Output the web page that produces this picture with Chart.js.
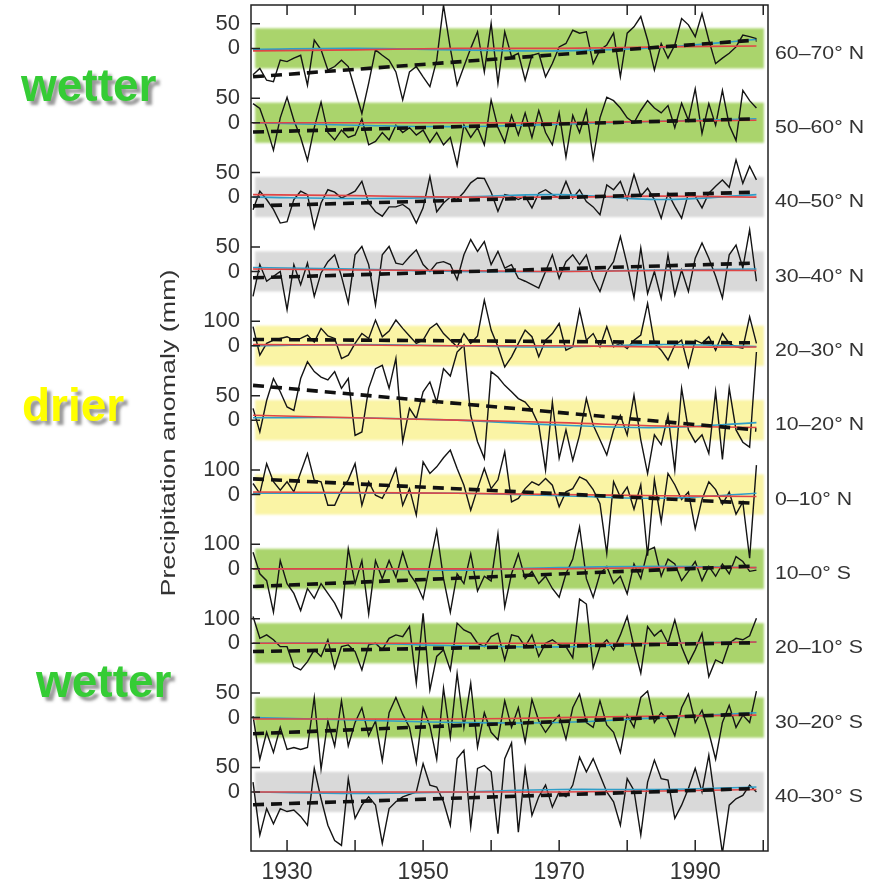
<!DOCTYPE html>
<html>
<head>
<meta charset="utf-8">
<script src="https://cdn.jsdelivr.net/npm/chart.js@4.4.1/dist/chart.umd.min.js"></script>
<style>
  body { margin: 0; background: #fff; }
  canvas { display: block; }
</style>
</head>
<body>
<canvas id="precipChart" width="870" height="884"></canvas>
<script>
// latitude bands, north to south
const zones = ["60–70° N", "50–60° N", "40–50° N", "30–40° N", "20–30° N", "10–20° N",
               "0–10° N", "10–0° S", "20–10° S", "30–20° S", "40–30° S"];
// value of the upper tick label in each band (mm)
const zoneScale = [50, 50, 50, 50, 100, 50, 100, 100, 100, 50, 50];
const zoneKind = ["wet", "wet", "flat", "flat", "dry", "dry", "dry", "wet", "wet", "wet", "flat"];

const firstYear = 1925;
const decades = [1930, 1940, 1950, 1960, 1970, 1980, 1990, 2000];
const yearLabels = [1930, 1950, 1970, 1990];

// observed annual anomalies (mm), 1925-1999
const p6070 = [-54, -41, -65, -68, -24, -27, -20, -14, -75, 17,
  -3, -44, -37, -24, -37, -85, -133, -71, -3, -14,
  -24, -48, -105, -48, -37, -58, -78, -24, 88, 0,
  -75, -37, 0, 34, -48, 51, -71, 34, -17, -10,
  -65, -14, -10, -58, -31, 3, 10, 37, 31, 34,
  -31, -3, 7, 31, -58, 31, 44, 65, 17, -44,
  10, -20, 7, 61, 48, 24, 71, 17, -31, -20,
  -10, 3, 27, 24, 20];
const p5060 = [39, 29, -10, -56, 10, 52, 5, -30, -77, -10,
  42, -20, -35, -15, -30, -25, 8, -45, -38, -20,
  -35, -5, -20, -10, -25, -15, -40, -20, -45, -30,
  -87, -5, -30, -10, -45, 46, -10, -40, 15, -25,
  20, -30, 25, -20, -45, 20, -70, 15, -20, 25,
  -73, 10, 52, 45, 30, 10, 0, 25, 45, 30,
  20, 35, -10, 40, 5, 69, -22, 39, -5, 66,
  -5, -36, 66, 45, 30];
const p4050 = [-26, 12, -5, -25, -53, -50, -5, 12, 5, -63,
  -12, 15, 10, -2, 5, 12, 32, -12, -30, -39,
  -20, -20, -15, -25, -53, -22, 42, -30, -12, 0,
  -5, 10, 29, 39, 38, 10, -29, 5, 2, -5,
  2, -22, 8, 15, 5, -2, 32, -2, 15, -9,
  -20, -36, 25, 15, 32, -5, 46, 2, 18, -5,
  -43, 8, -19, -43, 8, 2, -22, 8, 22, 35,
  20, 76, 28, 63, 35];
const p3040 = [-51, 14, -20, -10, 0, -78, 14, -27, 17, -51,
  -3, 20, 34, -10, -64, 34, 51, 14, -68, 34,
  51, 17, 14, 30, 44, 14, 0, 17, 20, 14,
  -17, 34, 65, 41, 61, 14, 41, 7, 14, -14,
  -20, -27, -34, 0, 34, -14, 20, 34, 14, 34,
  -14, -41, 0, 20, 71, 14, -54, 48, -45, 0,
  -55, 34, -48, 3, -41, 27, 58, 27, -10, -54,
  34, 54, 7, 85, -20];
const p2030 = [78, -38, 10, 23, 30, 37, 23, 30, 44, 15,
  71, 40, 30, -52, -38, 10, 50, 30, 105, 37,
  60, 105, 71, 40, 10, 23, 71, 91, 50, 23,
  -4, 50, 10, 40, 186, 64, -4, -86, -45, 10,
  64, 37, -45, 23, 50, 91, -18, -4, 146, 23,
  50, -4, 78, -4, 10, -11, 23, 44, 173, 10,
  -18, -58, 3, 23, -86, 23, 10, 37, -18, 50,
  10, -4, -10, 118, 10];
const p1020 = [24, -24, 40, 85, 58, 27, 20, 85, 119, 99,
  88, 82, 99, 65, 85, -31, -24, 65, 105, 112,
  65, 126, -44, 24, 3, 58, 78, 37, 105, 90,
  139, 153, 10, -44, -78, 99, 88, 71, 58, 44,
  37, 20, -10, -102, 37, -78, -20, -82, -30, 44,
  -10, -40, -71, -20, 10, -30, 51, -40, -109, -30,
  -50, 10, -102, 65, -20, -45, -30, -68, 58, -80,
  65, -20, -45, -55, 139];
const p0010 = [45, 4, 126, 52, 18, 52, 11, 90, 167, 58,
  52, -44, -44, 18, 60, 126, -44, 52, -3, -16,
  38, 106, -44, 24, -84, 133, 86, 113, 150, 181,
  106, 38, -64, 24, 106, 24, 60, 174, -30, -16,
  24, 52, 38, 65, 38, -50, 11, 24, 72, 58,
  20, -37, -240, 52, -10, 30, -60, 40, -250, 60,
  -111, 86, 40, -20, 10, -139, -20, 52, 20, -40,
  10, -80, -30, -260, 120];
const s0010 = [68, -20, -48, -177, 34, -60, -100, -170, -80, -120,
  -60, -100, -140, -197, 82, -60, 34, -184, 34, -40,
  34, -34, 68, -20, -60, -122, 20, 156, -40, -177,
  -20, -60, 61, -90, -30, -50, 143, -156, -20, 61,
  -40, -10, -60, -30, -80, -116, -20, 40, 170, -40,
  -116, -20, 10, -60, -30, -102, 20, -40, 75, 88,
  -30, 40, 20, -48, -10, 30, -48, 10, -30, 20,
  -20, 50, 30, -10, -5];
const s1020 = [109, 20, 34, 14, -14, -14, -95, -109, -75, -27,
  -54, 14, -102, -14, -7, -34, -109, -7, 0, -27,
  20, 34, 27, 68, -163, 122, -190, -54, -27, -109,
  82, 54, 41, 0, -14, 27, 41, -68, 34, 27,
  -14, 34, -54, 0, 14, -7, -14, -60, 180, 160,
  -100, -14, 14, -27, 34, 109, -14, -122, 68, 30,
  54, 0, 95, -14, -82, -27, 40, -136, -68, -82,
  0, 20, 14, 30, 102];
const s2030 = [3, -85, -30, -71, -20, -65, -61, -65, -61, 41,
  -105, -7, -58, 34, -58, -10, 20, -37, -7, -88,
  10, 41, 7, -20, -92, 20, -17, -85, 60, -40,
  90, -20, 70, -60, 10, -30, -45, 34, -20, 20,
  -50, 37, -7, -30, -10, 5, -44, 20, 48, -10,
  -20, 34, -15, -30, -71, 5, -20, 41, 54, -10,
  10, -5, -37, 20, 48, -10, 15, -30, -85, -10,
  25, -20, 5, -10, 54];
const s3040 = [20, -88, -34, -65, -34, -40, -37, -50, -68, 48,
  -14, -68, -99, -109, 27, -54, -27, -10, -27, -105,
  -34, -20, -10, -5, 0, 58, 14, 10, -20, -68,
  68, 85, -71, 48, 54, 41, -85, 68, 100, -82,
  48, -48, -10, 14, -31, 0, -10, 14, 71, 41,
  68, 34, 0, -20, -68, 27, 3, -88, 20, 65,
  27, 24, -54, -27, 7, 48, 0, 75, -27, -125,
  -27, -14, -7, 14, 0];
const anomalies = [p6070, p5060, p4050, p3040, p2030, p1020, p0010, s0010, s1020, s2030, s3040];

// linear trend of each band at 1925 and 1999 (mm)
const trendStart = [-58, -19, -18, -13, 26, 71, 64, -72, -34, -33, -26];
const trendEnd = [17, 8, 10, 17, 12, -20, -36, 12, 2, 8, 7];

// smoothed model curves (mm)
const modelYears = [1925, 1940, 1955, 1970, 1985, 1999];
const redModel = [
  [-5, -3, 0, 0, 3, 5], [0, 0, 0, 0, 3, 5], [5, 3, 0, 0, 2, 0], [5, 3, 2, 0, 2, 2],
  [5, 3, 0, 0, -5, -5], [10, 5, 0, -5, -12, -15], [10, 8, 5, 0, -5, -8], [0, 0, 0, 0, 5, 5],
  [0, 0, 0, 0, 0, 5], [-3, -3, -3, 0, 3, 5], [0, 0, 0, 0, 2, 5]];
const blueModel = [
  [-2, 0, -3, -5, 2, 18], [0, -5, -8, -3, 3, 8], [0, -3, 0, 5, -5, 5], [8, 5, 0, 0, 3, 5],
  [0, 5, 0, -5, 5, -3], [5, 5, 0, -10, -15, -5], [5, 5, 5, -5, -15, 5], [0, 0, -5, 5, 10, 5],
  [0, 0, -10, -15, 0, 5], [0, -5, -10, -10, 0, 10], [0, -3, 0, 5, 5, 10]];

const years = p6070.map((_, j) => firstYear + j);

// stacking: every band gets its own zero line on one shared axis
const yTop = 1726;
const firstZero = 1637.5;
const panelGap = 151.7;
const zeroOf = i => firstZero - panelGap * i;
const unitsPerMm = i => 50 / zoneScale[i];

const bandColors = { wet: "rgb(170, 212, 108)", flat: "rgb(217, 217, 217)", dry: "rgb(250, 244, 165)" };
const textColor = "#333";

const datasets = [];
anomalies.forEach((vals, i) => {
  const k = unitsPerMm(i), z = zeroOf(i);
  const pt = (yr, v) => ({ x: yr, y: z + v * k });
  datasets.push({
    data: vals.map((v, j) => pt(years[j], v)),
    borderColor: "#141414", borderWidth: 1.4, order: 3
  });
  datasets.push({
    data: modelYears.map((yr, j) => pt(yr, redModel[i][j])),
    borderColor: "#e04545", borderWidth: 1.6, tension: 0.4, order: 2
  });
  datasets.push({
    data: modelYears.map((yr, j) => pt(yr, blueModel[i][j])),
    borderColor: "#2f9ec8", borderWidth: 1.6, tension: 0.4, order: 2
  });
  datasets.push({
    data: [pt(years[0], trendStart[i]), pt(years[years.length - 1], trendEnd[i])],
    borderColor: "#111", borderWidth: 3.6, borderDash: [11, 7], order: 1
  });
});

// y ticks: zero and upper value of each band
const yTickValues = [], yTickText = [];
zones.forEach((_, i) => {
  yTickValues.push(zeroOf(i) + 50); yTickText.push(String(zoneScale[i]));
  yTickValues.push(zeroOf(i)); yTickText.push("0");
});

function drawStretched(ctx, text, x, y, sx) {
  ctx.save();
  ctx.translate(x, y);
  ctx.scale(sx, 1);
  ctx.fillText(text, 0, 0);
  ctx.restore();
}

const decorations = {
  id: "decorations",
  beforeDatasetsDraw(chart) {
    const { ctx, scales: { x, y } } = chart;
    const l = x.getPixelForValue(1925.3), r = x.getPixelForValue(2000.1);
    ctx.save();
    ctx.filter = "blur(1px)";
    zoneKind.forEach((kind, i) => {
      const top = y.getPixelForValue(zeroOf(i) + 41);
      const bot = y.getPixelForValue(zeroOf(i) - 41);
      ctx.fillStyle = bandColors[kind];
      ctx.fillRect(l, top, r - l, bot - top);
    });
    ctx.restore();
  },
  afterDraw(chart) {
    const { ctx, chartArea: a, scales: { x, y } } = chart;
    ctx.save();
    ctx.strokeStyle = "#222";
    ctx.lineWidth = 1.5;
    ctx.strokeRect(a.left, a.top, a.right - a.left, a.bottom - a.top);

    // inward tick marks
    ctx.beginPath();
    decades.forEach(yr => {
      const px = x.getPixelForValue(yr);
      ctx.moveTo(px, a.bottom); ctx.lineTo(px, a.bottom - 11);
      ctx.moveTo(px, a.top); ctx.lineTo(px, a.top + 10);
    });
    yTickValues.forEach(v => {
      const py = y.getPixelForValue(v);
      ctx.moveTo(a.left, py); ctx.lineTo(a.left + 9, py);
    });
    ctx.stroke();

    // band names on the right
    ctx.fillStyle = textColor;
    ctx.font = "19px 'Liberation Sans', Arial, sans-serif";
    ctx.textBaseline = "middle";
    ctx.textAlign = "left";
    const sx = 89 / ctx.measureText(zones[0]).width;
    zones.forEach((name, i) => {
      drawStretched(ctx, name, a.right + 7, y.getPixelForValue(zeroOf(i)) + 5, sx);
    });

    // axis title
    const title = "Precipitation anomaly (mm)";
    ctx.font = "21px 'Liberation Sans', Arial, sans-serif";
    ctx.textAlign = "center";
    ctx.textBaseline = "alphabetic";
    const tw = ctx.measureText(title).width;
    ctx.translate(175, 433);
    ctx.rotate(-Math.PI / 2);
    drawStretched(ctx, title, 0, 0, 327 / tw);
    ctx.restore();

    // wetter / drier notes
    ctx.save();
    ctx.font = "bold 46px 'Liberation Sans', Arial, sans-serif";
    ctx.textAlign = "left";
    ctx.textBaseline = "alphabetic";
    ctx.shadowColor = "rgba(70, 70, 70, 0.55)";
    ctx.shadowOffsetX = 4;
    ctx.shadowOffsetY = 4;
    ctx.shadowBlur = 3;
    ctx.fillStyle = "#35cc35";
    ctx.fillText("wetter", 21, 101);
    ctx.fillText("wetter", 36, 697);
    ctx.fillStyle = "#ffff00";
    ctx.fillText("drier", 22, 421);
    ctx.restore();
  }
};

const font = { family: "'Liberation Sans', Arial, sans-serif", size: 22 };
const yearFont = { family: "'Liberation Sans', Arial, sans-serif", size: 23 };

new Chart(document.getElementById("precipChart"), {
  type: "line",
  data: { datasets: datasets },
  options: {
    responsive: false,
    animation: false,
    devicePixelRatio: 1,
    layout: { padding: { top: 5, right: 102, left: 0, bottom: 0 } },
    elements: { point: { radius: 0 }, line: { fill: false } },
    plugins: { legend: { display: false }, tooltip: { enabled: false } },
    scales: {
      x: {
        type: "linear",
        min: 1924.7,
        max: 2000.7,
        grid: { display: false, drawTicks: false },
        border: { display: false },
        afterBuildTicks: scale => { scale.ticks = yearLabels.map(v => ({ value: v })); },
        afterFit: scale => {
          scale.height = 33;
          scale.paddingLeft = 0;
          scale.paddingRight = 0;
        },
        ticks: { autoSkip: false, maxRotation: 0, padding: 8, color: textColor, font: yearFont,
                 callback: v => String(v) }
      },
      y: {
        type: "linear",
        min: 0,
        max: yTop,
        grid: { display: false, drawTicks: false },
        border: { display: false },
        afterBuildTicks: scale => { scale.ticks = yTickValues.map(v => ({ value: v })); },
        afterFit: scale => {
          scale.width = 251;
          scale.paddingTop = 0;
          scale.paddingBottom = 0;
        },
        ticks: { autoSkip: false, padding: 11, color: textColor, font: font,
                 callback: (v, idx) => yTickText[idx] }
      }
    }
  },
  plugins: [decorations]
});
</script>
</body>
</html>
